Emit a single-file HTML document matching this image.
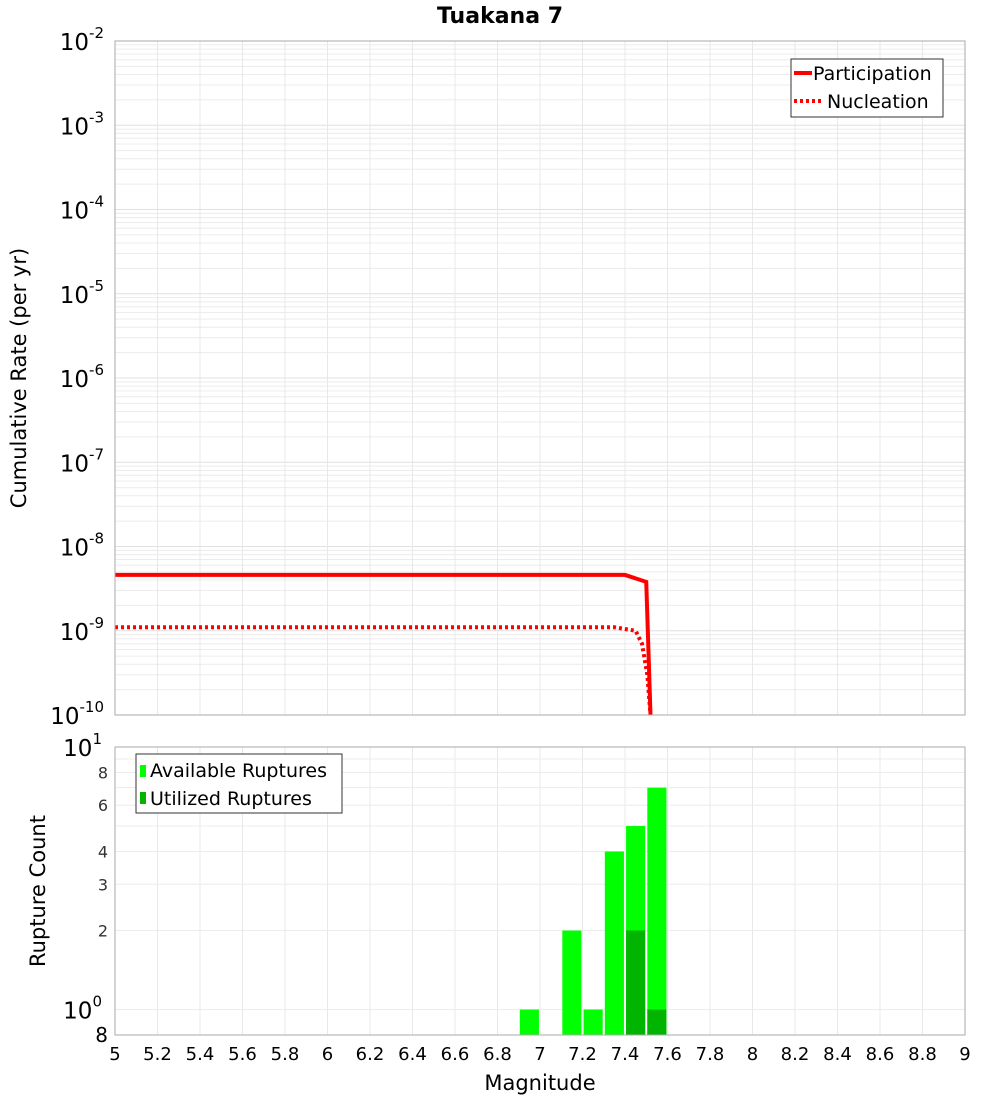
<!DOCTYPE html>
<html><head><meta charset="utf-8"><style>
body{margin:0;background:#fff;font-family:"DejaVu Sans","Liberation Sans",sans-serif}
svg text{font-family:"DejaVu Sans","Liberation Sans",sans-serif}
</style></head><body>
<svg id="c" width="1000" height="1100" xmlns="http://www.w3.org/2000/svg">
<text x="500" y="23" text-anchor="middle" font-size="22" font-weight="bold">Tuakana 7</text>
<text transform="translate(26,378) rotate(-90)" text-anchor="middle" font-size="21">Cumulative Rate (per yr)</text>
<text transform="translate(45,891) rotate(-90)" text-anchor="middle" font-size="21">Rupture Count</text>
<text x="540" y="1090" text-anchor="middle" font-size="21">Magnitude</text>
<g id="topg"></g><g id="botg"></g>
</svg>
<script>
const partMag=[5,7.4,7.5,7.52];
const partRate=[4.6e-9,4.6e-9,3.8e-9,8e-11];
const nuclMag=[5,7.35,7.45,7.48,7.505,7.52];
const nuclRate=[1.1e-9,1.1e-9,1.0e-9,7e-10,3e-10,8e-11];
const binMag=[6.95,7.15,7.25,7.35,7.45,7.55];
const availCount=[1,2,1,4,5,7];
const utilMag=[7.45,7.55];
const utilCount=[2,1];
const xTicks=[5,5.2,5.4,5.6,5.8,6,6.2,6.4,6.6,6.8,7,7.2,7.4,7.6,7.8,8,8.2,8.4,8.6,8.8,9];
const topDecades=[-10,-9,-8,-7,-6,-5,-4,-3,-2];
const botTicks=[2,3,4,6,8];

const NS="http://www.w3.org/2000/svg";
const X0=115,X1=965;
const x=m=>X0+(m-5)/4*(X1-X0);
const T0=41,T1=715;
const yT=v=>T0+(-2-Math.log10(v))/8*(T1-T0);
const B0=747,B1=1035,bmin=Math.log10(0.8);
const yB=v=>B0+(1-Math.log10(v))/(1-bmin)*(B1-B0);
function el(p,t,a){const e=document.createElementNS(NS,t);for(const k in a)e.setAttribute(k,a[k]);p.appendChild(e);return e;}
const topG=document.getElementById('topg'),botG=document.getElementById('botg');

for(const d of topDecades){for(let k=1;k<10;k++){const v=k*Math.pow(10,d);if(v>1e-2+1e-12)continue;const yy=yT(v);
const l=el(topG,'line',{x1:X0,x2:X1,y1:yy,y2:yy,stroke:k==1?'#e0e0e0':'#ececec','stroke-width':1});

}}
for(const m of xTicks){for(const [g,y0,y1] of [[topG,T0,T1],[botG,B0,B1]]){const l=el(g,'line',{x1:x(m),x2:x(m),y1:y0,y2:y1,stroke:'#e8e8e8'});

}}
for(const d of topDecades){const t=el(topG,'text',{x:104,y:yT(Math.pow(10,d))+9,'text-anchor':'end','font-size':23});


t.innerHTML='10<tspan dy="-12" font-size="15">'+d+'</tspan>';}
function poly(ms,rs,dash,name){const p=ms.map((m,i)=>x(m)+','+Math.min(yT(rs[i]),T1)).join(' ');
const e=el(topG,'polyline',{points:p,fill:'none',stroke:'#ff0000','stroke-width':4,'stroke-dasharray':dash});

}
poly(partMag,partRate,'none','participation-line');
poly(nuclMag,nuclRate,'3,3','nucleation-line');
const fr=el(topG,'rect',{x:X0,y:T0,width:X1-X0,height:T1-T0,fill:'none',stroke:'#aaa'});


const lg=el(topG,'g',{});


el(lg,'rect',{x:791,y:59,width:152,height:58,fill:'#fff',stroke:'#333'});
el(lg,'line',{x1:794,x2:812,y1:73,y2:73,stroke:'#f00','stroke-width':4});
el(lg,'line',{x1:794,x2:822,y1:101,y2:101,stroke:'#f00','stroke-width':4,'stroke-dasharray':'3,3'});
el(lg,'text',{x:813,y:80,'font-size':19}).textContent='Participation';
el(lg,'text',{x:827,y:108,'font-size':19}).textContent='Nucleation';

for(let k=1;k<=10;k++){const l=el(botG,'line',{x1:X0,x2:X1,y1:yB(k),y2:yB(k),stroke:'#ececec'});

}
const bw=(X1-X0)/4*0.09;
binMag.forEach((m,i)=>{const r=el(botG,'rect',{x:x(m)-bw/2,y:yB(availCount[i]),width:bw,height:B1-yB(availCount[i]),fill:'#00ff00'});

});
utilMag.forEach((m,i)=>{const r=el(botG,'rect',{x:x(m)-bw/2,y:yB(utilCount[i]),width:bw,height:B1-yB(utilCount[i]),fill:'#00b400'});

});
const fb=el(botG,'rect',{x:X0,y:B0,width:X1-X0,height:B1-B0,fill:'none',stroke:'#aaa'});


for(const v of botTicks){const t=el(botG,'text',{x:108,y:yB(v)+6,'text-anchor':'end','font-size':16,fill:'#333'});


t.textContent=v;}
for(const [v,yy] of [[0,yB(1)+9],[1,B0+9]]){const t=el(botG,'text',{x:102,y:yy,'text-anchor':'end','font-size':23});


t.innerHTML='10<tspan dy="-12" font-size="15">'+v+'</tspan>';}
const t8=el(botG,'text',{x:108,y:1042,'text-anchor':'end','font-size':20});


t8.textContent='8';
for(const m of xTicks){const t=el(botG,'text',{x:x(m),y:1060,'text-anchor':'middle','font-size':18});


t.textContent=m;}
const lb=el(botG,'g',{});


el(lb,'rect',{x:136,y:754,width:206,height:59,fill:'#fff',stroke:'#333'});
el(lb,'rect',{x:140,y:765,width:6,height:12,fill:'#00ff00'});
el(lb,'rect',{x:140,y:792,width:6,height:12,fill:'#00b400'});
el(lb,'text',{x:150,y:777,'font-size':19}).textContent='Available Ruptures';
el(lb,'text',{x:150,y:805,'font-size':19}).textContent='Utilized Ruptures';
</script>
</body></html>
